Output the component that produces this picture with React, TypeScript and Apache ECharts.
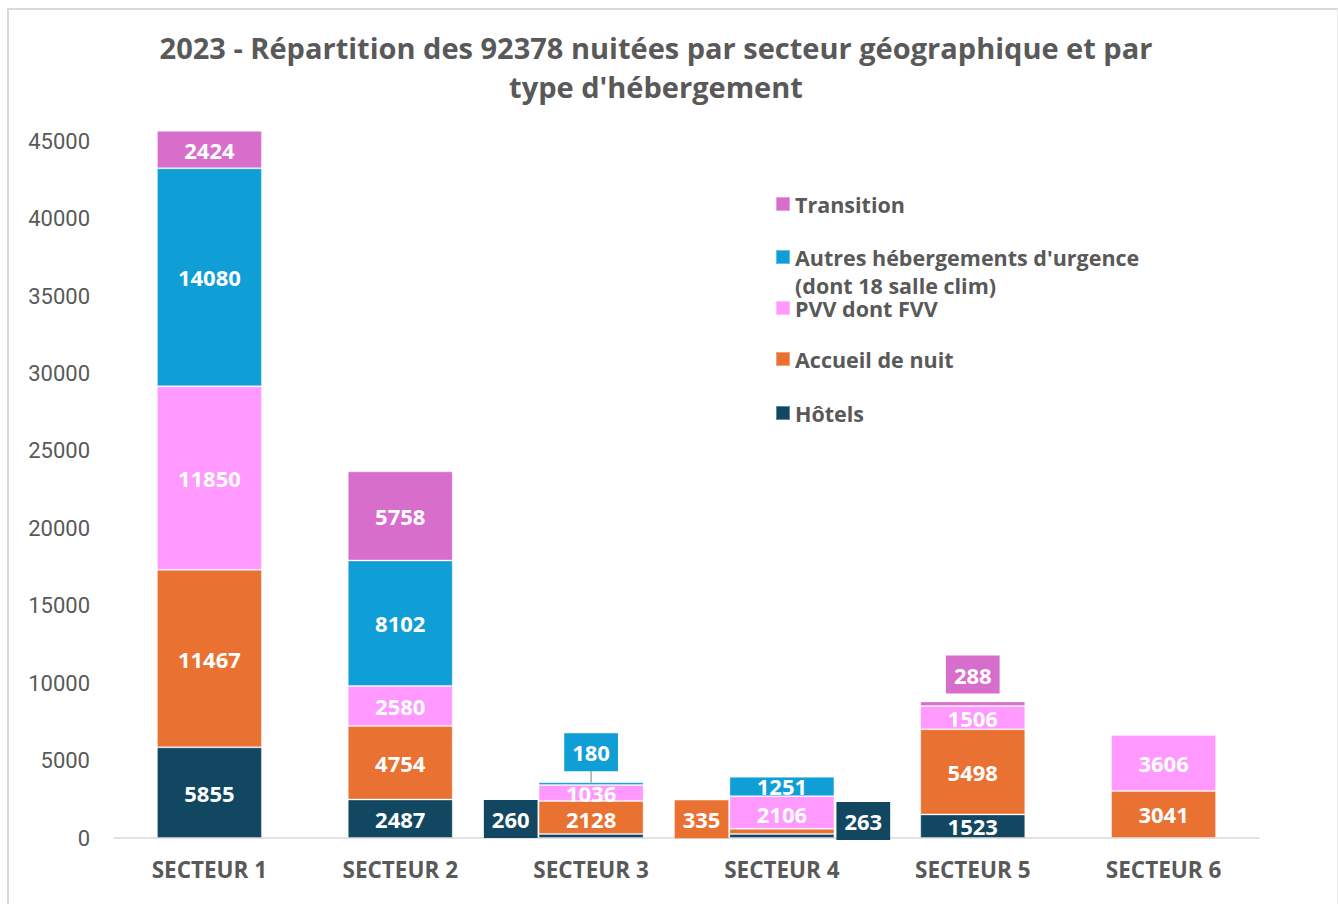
import React, { useEffect, useRef } from 'react';
import * as echarts from 'echarts';

const categories = ['SECTEUR 1', 'SECTEUR 2', 'SECTEUR 3', 'SECTEUR 4', 'SECTEUR 5', 'SECTEUR 6'];
const seriesNames = [
  'Hôtels',
  'Accueil de nuit',
  'PVV dont FVV',
  "Autres hébergements d'urgence (dont 18 salle clim)",
  'Transition',
];
const legendLabels = [
  'Hôtels',
  'Accueil de nuit',
  'PVV dont FVV',
  "Autres hébergements d'urgence",
  'Transition',
];
const legendSecondLine = '(dont 18 salle clim)';
const hotels = [5855, 2487, 260, 263, 1523, 0];
const accueilDeNuit = [11467, 4754, 2128, 335, 5498, 3041];
const pvvDontFvv = [11850, 2580, 1036, 2106, 1506, 3606];
const autresHebergements = [14080, 8102, 180, 1251, 0, 0];
const transition = [2424, 5758, 0, 0, 288, 0];
const yTicks = [0, 5000, 10000, 15000, 20000, 25000, 30000, 35000, 40000, 45000];
const titleText = "2023 - Répartition des 92378 nuitées par secteur géographique et par\ntype d'hébergement";

const FONT = '"Open Sans"';
const AXFONT = 'Roboto';
const GREY = '#595959';
const colors = ['#124761', '#E97132', '#FF99FF', '#0F9ED5', '#D86ECC'];

// label placement styles (positions only, not data)
const callouts: Record<string, any> = {
  '0-2': { position: 'left', distance: 1, offset: [0, -17], box: true },
  '0-3': { position: 'right', distance: 2, offset: [0, -15], box: true },
  '1-3': { position: 'left', distance: 1, offset: [0, -12], box: true },
  '1-2': { offset: [0, 2] },
  '2-3': { offset: [0, 2] },
  '3-2': { position: 'top', distance: 5, line: true, box: true },
  '4-4': { position: 'top', distance: 8, box: true },
};

const legendCenters = [412, 358, 307, 256, 203];

export default function App() {
  const ref = useRef<HTMLDivElement>(null);
  useEffect(() => {
    if (!ref.current) return;
    const chart = echarts.init(ref.current, undefined, { renderer: 'svg' });
    const all = [hotels, accueilDeNuit, pvvDontFvv, autresHebergements, transition];
    const series = all.map((arr, si) => {
      const s: any = {
        name: seriesNames[si],
        type: 'bar',
        stack: 'total',
        barWidth: 105,
        itemStyle: { color: colors[si], borderColor: 'rgba(255,255,255,0.35)', borderWidth: 1 },
        label: {
          show: true,
          position: 'inside',
          color: '#ffffff',
          fontSize: 22,
          fontWeight: 'bold',
          fontFamily: FONT,
          lineHeight: 20,
        },
        data: arr.map((v, di) => {
          if (!v) return null;
          const c = callouts[`${si}-${di}`];
          if (!c) return v;
          const lab: any = { offset: c.offset || [0, 0] };
          if (c.position) {
            lab.position = c.position;
            lab.distance = c.distance;
          }
          if (c.box) {
            lab.backgroundColor = colors[si];
            lab.padding = [9, 8, 9, 8];
          }
          const item: any = { value: v, label: lab };
          if (c.line) {
            item.labelLine = { show: true, length2: 0, lineStyle: { color: '#a6a6a6', width: 1.5 } };
          }
          return item;
        }),
      };
      if (si === 3) {
        s.labelLayout = (params: any) => (params.dataIndex === 2 ? { dy: -6 } : {});
      }
      return s;
    });

    const legends = seriesNames.map((name, si) => ({
      data: [name],
      left: 775,
      top: legendCenters[si] - 10,
      orient: 'vertical',
      padding: 0,
      itemWidth: 14,
      itemHeight: 14,
      icon: 'rect',
      selectedMode: false,
      textStyle: {
        fontSize: 21.5,
        fontWeight: 'bold',
        color: GREY,
        fontFamily: FONT,
        lineHeight: 20,
      },
      formatter: () => legendLabels[si],
    }));

    chart.setOption({
      animation: false,
      backgroundColor: 'transparent',
      title: {
        text: titleText,
        left: 656,
        top: 28,
        textAlign: 'center',
        padding: 0,
        textStyle: {
          fontSize: 29,
          fontWeight: 'bold',
          color: GREY,
          fontFamily: FONT,
          lineHeight: 39,
        },
      },
      legend: legends,
      graphic: [
        {
          type: 'text',
          left: 795,
          top: 274,
          style: {
            text: legendSecondLine,
            fontSize: 21.5,
            fontWeight: 'bold',
            fill: GREY,
            fontFamily: FONT,
            lineHeight: 20,
          },
        },
      ],
      grid: { left: 114, right: 79, top: 118, bottom: 66, containLabel: false },
      xAxis: {
        type: 'category',
        data: categories,
        axisLine: { lineStyle: { color: '#d9d9d9', width: 1.5 } },
        axisTick: { show: false },
        axisLabel: { fontSize: 22.5, fontWeight: 'bold', color: GREY, fontFamily: FONT, margin: 20 },
      },
      yAxis: {
        type: 'value',
        min: 0,
        max: 46500,
        interval: 5000,
        splitLine: { show: false },
        axisLine: { show: false },
        axisTick: { show: false },
        axisLabel: {
          fontSize: 22,
          color: GREY,
          fontFamily: AXFONT,
          margin: 24,
          formatter: (v: number) => (yTicks.includes(v) ? String(v) : ''),
        },
      },
      series,
    });
    return () => chart.dispose();
  }, []);

  return (
    <>
      <div
        style={{
          position: 'fixed',
          left: 7,
          top: 8,
          width: 1331,
          height: 900,
          boxSizing: 'border-box',
          borderTop: '2px solid #d9d9d9',
          borderLeft: '2px solid #d9d9d9',
          borderRight: '1px solid #ececec',
          background: '#ffffff',
        }}
      />
      <div ref={ref} style={{ position: 'fixed', left: 0, top: 0, width: 1338, height: 904 }} />
    </>
  );
}
